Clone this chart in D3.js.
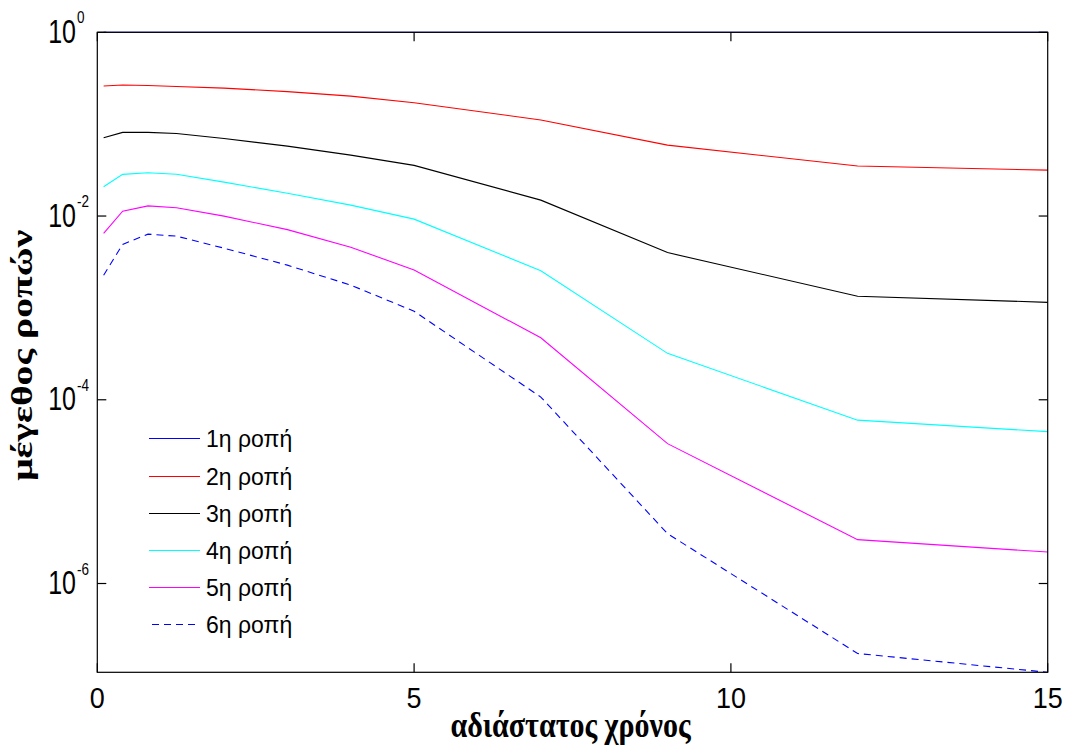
<!DOCTYPE html>
<html>
<head>
<meta charset="utf-8">
<script src="https://cdn.jsdelivr.net/npm/d3@7"></script>
<style>
  html, body { margin: 0; padding: 0; background: #fff; }
  svg { display: block; }
</style>
</head>
<body>
<svg id="chart" width="1067" height="756"></svg>
<script>
// dimensionless time samples
const times = [0.1, 0.4, 0.8, 1.25, 2, 3, 4, 5, 7, 9, 12, 15];

// moment magnitudes per order
const moment1 = [1, 1, 1, 1, 1, 1, 1, 1, 1, 1, 1, 1];
const moment2 = [0.26, 0.267, 0.264, 0.257, 0.247, 0.226, 0.202, 0.171, 0.111, 0.0592, 0.035, 0.0316];
const moment3 = [0.0711, 0.0814, 0.0814, 0.079, 0.0697, 0.0577, 0.046, 0.0356, 0.0149, 0.0040, 0.00134, 0.00115];
const moment4 = [0.0208, 0.0284, 0.0296, 0.0285, 0.0234, 0.0177, 0.01315, 0.00925, 0.00254, 3.2e-4, 6.0e-5, 4.5e-5];
const moment5 = [0.00646, 0.0113, 0.0129, 0.0123, 0.00997, 0.00711, 0.00458, 0.00258, 4.73e-4, 3.33e-5, 3.0e-6, 2.2e-6];
const moment6 = [0.00227, 0.00491, 0.00635, 0.00604, 0.00447, 0.00292, 0.00177, 9.2e-4, 1.07e-4, 3.49e-6, 1.73e-7, 1.08e-7];

const seriesNames = ["1η ροπή", "2η ροπή", "3η ροπή", "4η ροπή", "5η ροπή", "6η ροπή"];
const seriesColors = ["#0000ff", "#ff0000", "#000000", "#00ffff", "#ff00ff", "#0000ff"];
const seriesDash = [null, null, null, null, null, "7,5"];

const xTicks = [0, 5, 10, 15];
const yTickExponents = [0, -2, -4, -6];

const xLabel = "αδιάστατος χρόνος";
const yLabel = "μέγεθος ροπών";

const allSeries = [moment1, moment2, moment3, moment4, moment5, moment6];

const svg = d3.select("#chart");
const plot = { left: 97.3, right: 1047.7, top: 32.3, bottom: 672.3 };

const x = d3.scaleLinear().domain([0, 15]).range([plot.left, plot.right]);
const yExtent = d3.extent(allSeries.flat());
const y = d3.scaleLog().domain(yExtent).range([plot.bottom, plot.top]);

// curves (drawn first so the frame sits on top)
const line = d3.line().x(d => x(d[0])).y(d => y(d[1]));
const curves = svg.append("g");
allSeries.forEach((vals, i) => {
  const pts = times.map((t, k) => [t, vals[k]]);
  curves.append("path")
    .attr("d", line(pts))
    .attr("fill", "none")
    .attr("stroke", seriesColors[i])
    .attr("stroke-width", 1.1)
    .attr("stroke-dasharray", seriesDash[i]);
});

// frame
svg.append("rect")
  .attr("x", plot.left).attr("y", plot.top)
  .attr("width", plot.right - plot.left).attr("height", plot.bottom - plot.top)
  .attr("fill", "none").attr("stroke", "#000").attr("stroke-width", 1.2);

// inward ticks on all four sides
const tickLen = 9;
const ticks = svg.append("g").attr("stroke", "#000").attr("stroke-width", 1.2);
xTicks.forEach(v => {
  const px = x(v);
  ticks.append("line").attr("x1", px).attr("x2", px).attr("y1", plot.bottom).attr("y2", plot.bottom - tickLen);
  ticks.append("line").attr("x1", px).attr("x2", px).attr("y1", plot.top).attr("y2", plot.top + tickLen);
});
yTickExponents.forEach(e => {
  const py = y(Math.pow(10, e));
  ticks.append("line").attr("x1", plot.left).attr("x2", plot.left + tickLen).attr("y1", py).attr("y2", py);
  ticks.append("line").attr("x1", plot.right).attr("x2", plot.right - tickLen).attr("y1", py).attr("y2", py);
});

// x tick labels
svg.append("g").selectAll("text").data(xTicks).join("text")
  .attr("transform", d => `translate(${x(d)},708.3) scale(1,1.12)`)
  .attr("text-anchor", "middle")
  .attr("font-family", "Liberation Sans, Arial, sans-serif")
  .attr("font-size", 27)
  .attr("fill", "#000")
  .text(d => d);

// y tick labels: 10 with a superscript exponent
const yLab = svg.append("g")
  .attr("font-family", "Liberation Sans, Arial, sans-serif")
  .attr("fill", "#000");
yTickExponents.forEach(e => {
  const py = y(Math.pow(10, e));
  yLab.append("text")
    .attr("transform", `translate(76,${py + 10.5}) scale(1,1.3)`)
    .attr("text-anchor", "end")
    .attr("font-size", 25)
    .text("10");
  yLab.append("text")
    .attr("transform", `translate(77,${py - 9}) scale(1,1.25)`)
    .attr("text-anchor", "start")
    .attr("font-size", 13.5)
    .text(String(e));
});

// axis titles (the figure is stretched vertically, so both titles are too)
svg.append("text")
  .attr("transform", `translate(${(plot.left + plot.right) / 2 - 2},737) scale(1,1.2)`)
  .attr("text-anchor", "middle")
  .attr("font-family", "Liberation Serif, Times New Roman, serif")
  .attr("font-weight", "bold")
  .attr("font-size", 30)
  .attr("fill", "#000")
  .text(xLabel);

svg.append("text")
  .attr("transform", `translate(32,${(plot.top + plot.bottom) / 2 + 3}) rotate(-90) scale(1.32,1)`)
  .attr("text-anchor", "middle")
  .attr("font-family", "Liberation Serif, Times New Roman, serif")
  .attr("font-weight", "bold")
  .attr("font-size", 30)
  .attr("fill", "#000")
  .text(yLabel);

// legend
const legend = svg.append("g");
seriesNames.forEach((name, i) => {
  const cy = Math.round(438.3 + i * 37.2) + 0.5;
  legend.append("line")
    .attr("x1", seriesDash[i] ? 152 : 149).attr("x2", 200)
    .attr("y1", cy).attr("y2", cy)
    .attr("stroke", seriesColors[i])
    .attr("stroke-width", 1)
    .attr("stroke-dasharray", seriesDash[i]);
  legend.append("text")
    .attr("x", 206).attr("y", cy + 8)
    .attr("font-family", "Liberation Sans, Arial, sans-serif")
    .attr("font-size", 23)
    .attr("fill", "#000")
    .text(name);
});
</script>
</body>
</html>
